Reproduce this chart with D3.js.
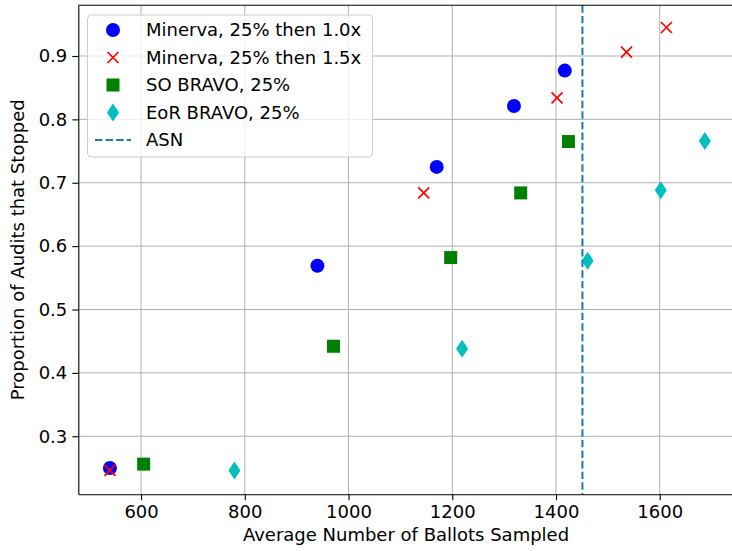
<!DOCTYPE html>
<html>
<head>
<meta charset="utf-8">
<script src="https://cdn.jsdelivr.net/npm/d3@7"></script>
<style>
  body { margin: 0; background: #fff; }
  text { font-family: "DejaVu Sans", sans-serif; }
</style>
</head>
<body>
<div id="chart"></div>
<script>
// data
const minerva10X = [540, 940, 1170, 1319, 1417]
const minerva10Y = [0.250, 0.569, 0.725, 0.821, 0.877]

const minerva15X = [540, 1145, 1402, 1536, 1613]
const minerva15Y = [0.246, 0.684, 0.834, 0.906, 0.945]

const soBravoX = [605, 971, 1197, 1332, 1424]
const soBravoY = [0.256, 0.442, 0.582, 0.684, 0.765]

const eorBravoX = [780, 1219, 1461, 1602, 1687]
const eorBravoY = [0.246, 0.438, 0.577, 0.688, 0.766]

const asn = 1451

const xTicks = [600, 800, 1000, 1200, 1400, 1600]
const yTicks = [0.3, 0.4, 0.5, 0.6, 0.7, 0.8, 0.9]

const series = [
  { name: "Minerva, 25% then 1.0x", xs: minerva10X, ys: minerva10Y, shape: "circle", color: "#0000ff" },
  { name: "Minerva, 25% then 1.5x", xs: minerva15X, ys: minerva15Y, shape: "x", color: "#ff0000" },
  { name: "SO BRAVO, 25%", xs: soBravoX, ys: soBravoY, shape: "square", color: "#008000" },
  { name: "EoR BRAVO, 25%", xs: eorBravoX, ys: eorBravoY, shape: "diamond", color: "#00bfbf" },
]

const width = 732
const height = 551
const plotLeft = 78.3, plotTop = 5.3, plotBottom = 494.3, plotRight = 734.4
const fontSize = "18px"

const x = d3.scaleLinear().domain([479, 1744]).range([plotLeft, plotRight])
const y = d3.scaleLinear().domain([0.2084, 0.980]).range([plotBottom, plotTop])

const svg = d3.select("#chart").append("svg")
    .attr("width", width)
    .attr("height", height)

svg.append("rect")
    .attr("width", width)
    .attr("height", height)
    .attr("fill", "#fff")

// grid
const grid = svg.append("g")
grid.selectAll(".gx").data(xTicks).join("line")
    .attr("class", "gx")
    .attr("x1", d => x(d)).attr("x2", d => x(d))
    .attr("y1", plotTop).attr("y2", plotBottom)
    .attr("stroke", "#b0b0b0").attr("stroke-width", 1)
grid.selectAll(".gy").data(yTicks).join("line")
    .attr("class", "gy")
    .attr("x1", plotLeft).attr("x2", plotRight)
    .attr("y1", d => y(d)).attr("y2", d => y(d))
    .attr("stroke", "#b0b0b0").attr("stroke-width", 1)

// markers
const drawMarker = (g, shape, color) => {
  if (shape == "circle") {
    g.append("circle").attr("r", 7).attr("fill", color)
  } else if (shape == "x") {
    g.append("path").attr("d", "M-5.5,-5.5L5.5,5.5M-5.5,5.5L5.5,-5.5")
        .attr("stroke", color).attr("stroke-width", 1.7).attr("fill", "none")
  } else if (shape == "square") {
    g.append("rect").attr("x", -6.5).attr("y", -6.5).attr("width", 13).attr("height", 13).attr("fill", color)
  } else if (shape == "diamond") {
    g.append("path").attr("d", "M0,-9L6,0L0,9L-6,0Z").attr("fill", color)
  }
}

series.forEach(s => {
  const g = svg.append("g")
  s.xs.forEach((xv, i) => {
    const m = g.append("g").attr("transform", `translate(${x(xv)},${y(s.ys[i])})`)
    drawMarker(m, s.shape, s.color)
  })
})

// ASN line
svg.append("line")
    .attr("x1", x(asn)).attr("x2", x(asn))
    .attr("y1", plotTop).attr("y2", plotBottom)
    .attr("stroke", "#1f77b4").attr("stroke-width", 2)
    .attr("stroke-dasharray", "7.4,3.2")

// axes
const xAxis = svg.append("g")
    .attr("transform", `translate(0,${plotBottom})`)
    .call(d3.axisBottom(x).tickValues(xTicks).tickSizeInner(6).tickSizeOuter(0).tickPadding(5).tickFormat(d3.format("d")))
const yAxis = svg.append("g")
    .attr("transform", `translate(${plotLeft},0)`)
    .call(d3.axisLeft(y).tickValues(yTicks).tickSizeInner(6).tickSizeOuter(0).tickPadding(5).tickFormat(d3.format(".1f")))

;[xAxis, yAxis].forEach(a => {
  a.select(".domain").attr("stroke", "#000").attr("stroke-width", 1.1)
  a.selectAll(".tick line").attr("stroke", "#000").attr("stroke-width", 1.1)
  a.selectAll(".tick text").attr("fill", "#000").style("font-size", fontSize).style("font-family", "DejaVu Sans")
})

// top spine
svg.append("line")
    .attr("x1", plotLeft).attr("x2", plotRight)
    .attr("y1", plotTop).attr("y2", plotTop)
    .attr("stroke", "#000").attr("stroke-width", 1.1)

// axis labels
svg.append("text")
    .attr("x", 406)
    .attr("y", 541)
    .attr("text-anchor", "middle")
    .style("font-size", fontSize)
    .text("Average Number of Ballots Sampled")

svg.append("text")
    .attr("transform", `translate(24,${(plotTop + plotBottom) / 2}) rotate(-90)`)
    .attr("text-anchor", "middle")
    .style("font-size", fontSize)
    .text("Proportion of Audits that Stopped")

// legend
const legend = svg.append("g")
legend.append("rect")
    .attr("x", 87.5).attr("y", 15)
    .attr("width", 285).attr("height", 142)
    .attr("rx", 4)
    .attr("fill", "#fff").attr("fill-opacity", 0.8)
    .attr("stroke", "#cccccc").attr("stroke-width", 1)

const legendItems = series.map(s => ({ name: s.name, shape: s.shape, color: s.color }))
legendItems.push({ name: "ASN", shape: "line", color: "#1f77b4" })

legendItems.forEach((d, i) => {
  const rowY = 30 + i * 27.5
  const g = legend.append("g").attr("transform", `translate(113,${rowY})`)
  if (d.shape == "line") {
    g.append("line").attr("x1", -18).attr("x2", 18).attr("y1", 0).attr("y2", 0)
        .attr("stroke", d.color).attr("stroke-width", 2).attr("stroke-dasharray", "7.4,3.2")
  } else {
    drawMarker(g, d.shape, d.color)
  }
  legend.append("text")
      .attr("x", 146).attr("y", rowY)
      .attr("dy", "0.36em")
      .style("font-size", fontSize)
      .text(d.name)
})
</script>
</body>
</html>
